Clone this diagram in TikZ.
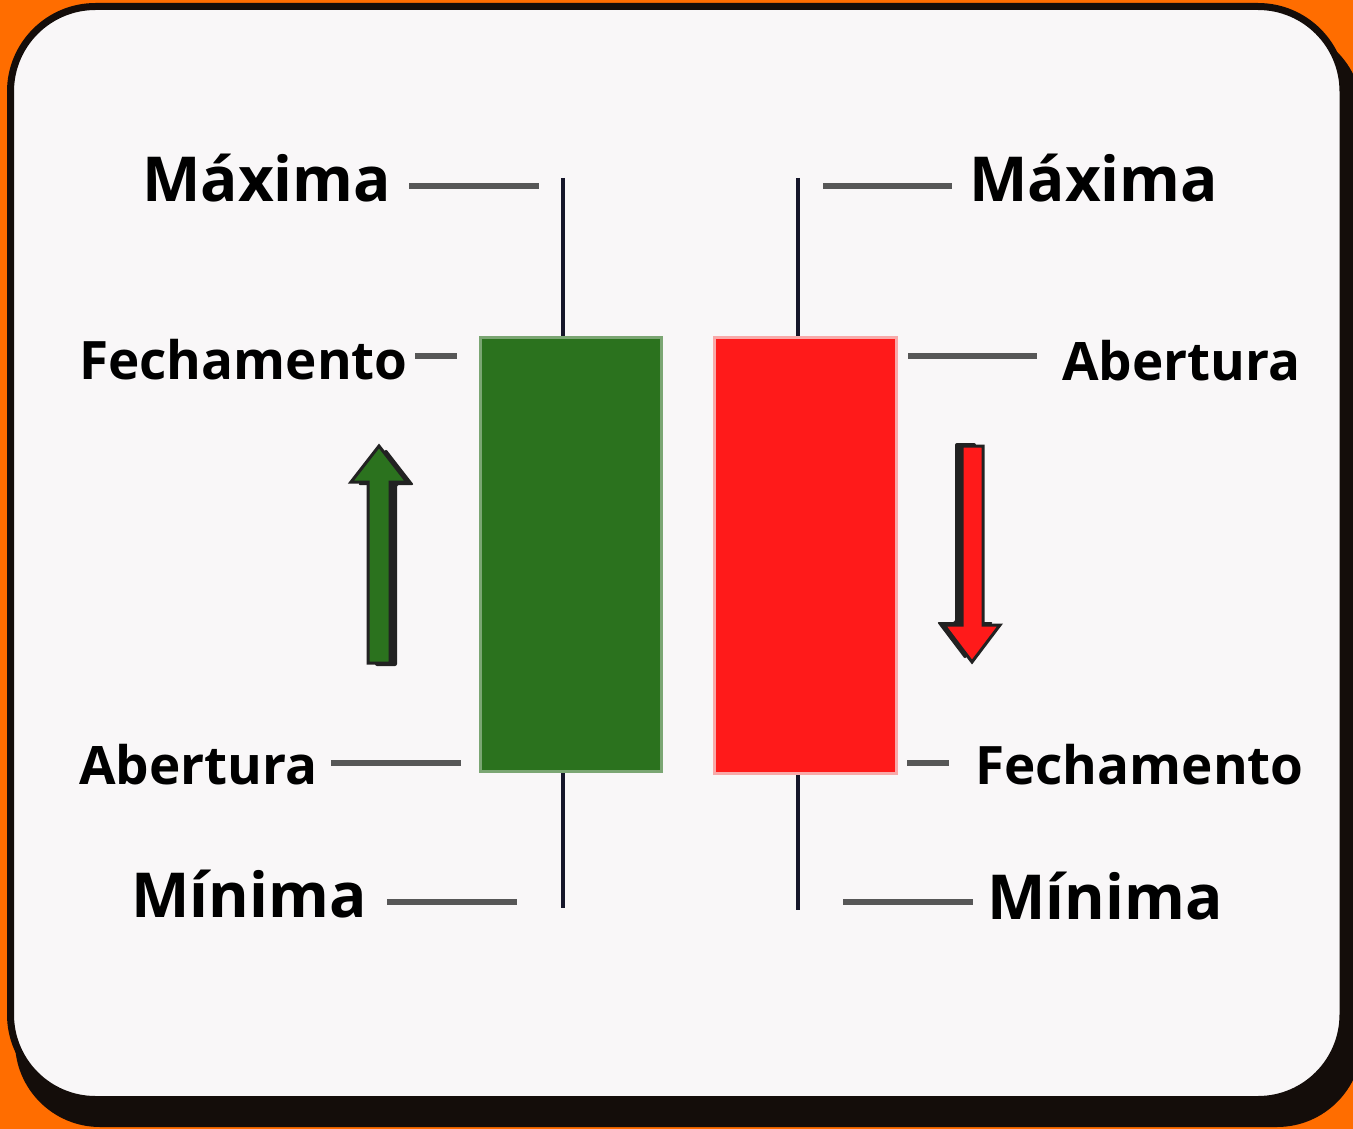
\documentclass[tikz,border=0pt]{standalone}
\usepackage{fontspec}
\setmainfont{Open Sans}
\definecolor{bgorange}{HTML}{FF6D00}
\definecolor{cardfill}{HTML}{F9F7F8}
\definecolor{carddark}{HTML}{140D0A}
\definecolor{wick}{HTML}{16162A}
\definecolor{lblline}{HTML}{575757}
\definecolor{bullfill}{HTML}{2B721E}
\definecolor{bulledge}{HTML}{7BA673}
\definecolor{bearfill}{HTML}{FF1A1A}
\definecolor{bearedge}{HTML}{F9A9A9}
\definecolor{arrowdark}{HTML}{222222}
\tikzset{
  wickline/.style={draw=wick, line width=4pt},
  lbl/.style={draw=lblline, line width=6pt},
  bigtxt/.style={font=\fontsize{62}{68}\selectfont\bfseries, inner sep=0pt, text=black},
  midtxt/.style={font=\fontsize{53}{60}\selectfont\bfseries, inner sep=0pt, text=black},
}
\begin{document}
\begin{tikzpicture}[x=1pt,y=-1pt]
\useasboundingbox (0,0) rectangle (1353,1129);
\fill[bgorange] (0,0) rectangle (1353,1129);
% shadow
\fill[carddark, rounded corners=85pt] (15,27) rectangle (1362,1127);
% card
\filldraw[fill=cardfill, draw=carddark, line width=7pt, rounded corners=85pt] (10.5,6.5) rectangle (1343,1099.5);

% wicks
\coordinate (lwt) at (563,178);
\coordinate (lwb) at (563,908);
\coordinate (rwt) at (798,178);
\coordinate (rwb) at (798,910);
\draw[wickline] (lwt) -- (563,337);
\draw[wickline] (563,771) -- (lwb);
\draw[wickline] (rwt) -- (798,337);
\draw[wickline] (798,773) -- (rwb);

% bodies
\node[draw=bulledge, fill=bullfill, line width=3pt, minimum width=181pt, minimum height=434pt, inner sep=0pt] (bull) at (570.5,554) {};
\node[draw=bearedge, fill=bearfill, line width=3pt, minimum width=182pt, minimum height=436pt, inner sep=0pt] (bear) at (805,555) {};

% labels left
\node[bigtxt, anchor=base west] (lmax) at (142,202) {Máxima};
\node[midtxt, anchor=base west] (lfech) at (79,379) {Fechamento};
\node[midtxt, anchor=base west] (laber) at (79,784) {Abertura};
\node[bigtxt, anchor=base west] (lmin) at (131,917) {Mínima};
% labels right
\node[bigtxt, anchor=base west] (rmax) at (969,202) {Máxima};
\node[midtxt, anchor=base west] (raber) at (1062,380) {Abertura};
\node[midtxt, anchor=base west] (rfech) at (975,784) {Fechamento};
\node[bigtxt, anchor=base west] (rmin) at (987,919) {Mínima};

% label lines
\draw[lbl] (409,186) -- (539,186);
\draw[lbl] (415,356) -- (457,356);
\draw[lbl] (331,763) -- (461,763);
\draw[lbl] (387,902) -- (517,902);
\draw[lbl] (823,186) -- (952,186);
\draw[lbl] (908,356) -- (1037,356);
\draw[lbl] (907,763) -- (949,763);
\draw[lbl] (843,902) -- (973,902);

% up arrow (green)
\begin{scope}[shift={(7,3)}]
\fill[arrowdark, rounded corners=2pt] (368,663) -- (368,482) -- (351,482) -- (379,446) -- (407,482) -- (390,482) -- (390,663) -- cycle;
\end{scope}
\filldraw[fill=bullfill, draw=arrowdark, line width=3pt, line join=miter] (368,663) -- (368,482) -- (351,482) -- (379,446) -- (407,482) -- (390,482) -- (390,663) -- cycle;

% down arrow (red)
\begin{scope}[shift={(-7,-3)}]
\fill[arrowdark, rounded corners=2pt] (962,446) -- (962,625) -- (944,625) -- (972,662) -- (1000,625) -- (983,625) -- (983,446) -- cycle;
\end{scope}
\filldraw[fill=bearfill, draw=arrowdark, line width=3pt, line join=miter] (962,446) -- (962,625) -- (944,625) -- (972,662) -- (1000,625) -- (983,625) -- (983,446) -- cycle;
\end{tikzpicture}
\end{document}
